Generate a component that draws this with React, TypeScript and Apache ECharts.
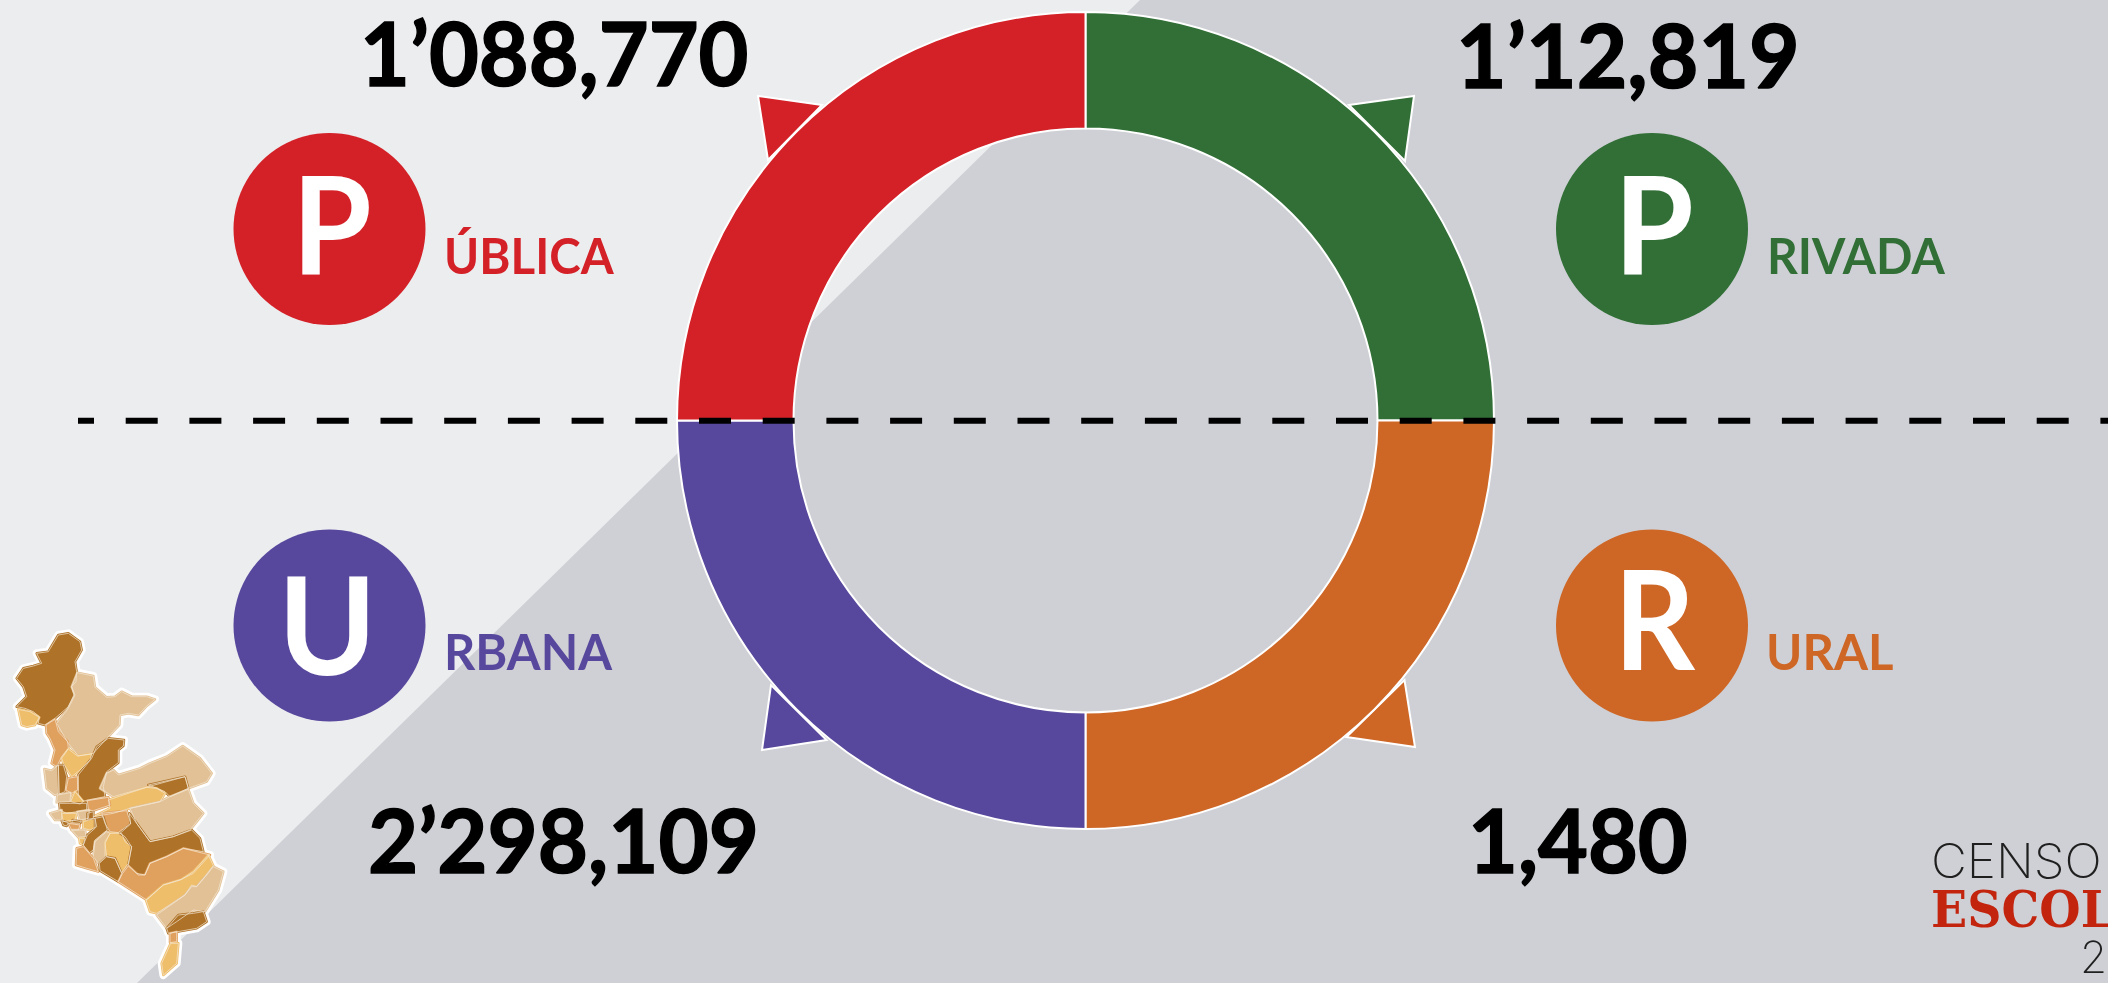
import React, { useEffect, useRef } from "react";
import * as echarts from "echarts";

const categories = ["Privada", "Rural", "Urbana", "Pública"];
const sliceShares = [25, 25, 25, 25];
const sliceColors = ["#316F37", "#CE6626", "#58489D", "#D42027"];
const totals = ["1’12,819", "1,480", "2’298,109", "1’088,770"];
const initials = ["P", "R", "U", "P"];
const suffixes = ["RIVADA", "URAL", "RBANA", "ÚBLICA"];

// [x, y of the text's vertical middle, horizontal scale]
const totalPos = [[1456, 54, 0.993], [1468, 839, 0.978], [368, 839, 0.984], [360, 52, 0.978]];
const circlePos = [[1652, 229], [1652, 625.5], [329.5, 625.5], [329.5, 229]];
const initialPos = [[1614, 222, 0.94], [1614, 617, 0.92], [278, 622, 0.97], [292, 222, 0.94]];
const suffixPos = [[1767, 255, 0.96], [1766, 651, 0.98], [444, 651, 0.975], [444, 255, 0.95]];
const pointers = [
  [[1414, 96], [1349, 105], [1405, 161]],
  [[1415, 747], [1346.5, 737], [1404.5, 680]],
  [[762, 750], [826.5, 740], [771, 685]],
  [[758, 96], [822, 105], [768, 160]],
];

const DARK = "#AE7228", TAN = "#E2C196", ORG = "#E0A05E", YEL = "#EFBE6B";
const mapRegions: [string, number[][]][] = [
  [DARK, [[175,105],[205,100],[240,125],[245,150],[225,185],[230,215],[228,245],[215,260],[222,285],[205,320],[165,355],[135,375],[115,370],[118,350],[100,335],[75,325],[50,320],[80,290],[70,260],[50,235],[70,205],[100,198],[125,190],[110,160],[145,155]]],
  [YEL, [[55,328],[90,335],[118,352],[105,375],[80,380],[65,375]]],
  [TAN, [[232,218],[280,228],[285,262],[320,292],[345,290],[365,275],[395,290],[440,290],[465,298],[440,318],[415,345],[385,340],[360,345],[358,375],[325,410],[280,460],[235,468],[205,430],[170,370],[205,325],[225,285],[215,260]]],
  [ORG, [[138,375],[165,358],[175,395],[203,425],[205,445],[185,470],[170,500],[155,490],[165,450],[150,415],[140,400]]],
  [YEL, [[205,447],[232,468],[275,462],[270,480],[240,510],[215,530],[190,490],[185,475]]],
  [DARK, [[325,415],[372,420],[370,438],[355,450],[355,488],[320,515],[310,560],[315,590],[250,603],[235,585],[235,525],[275,475],[290,440]]],
  [TAN, [[133,507],[155,512],[175,495],[175,580],[165,585],[140,565]]],
  [DARK, [[175,495],[190,495],[200,530],[195,575],[178,582]]],
  [ORG, [[205,535],[232,530],[233,570],[215,580],[198,570]]],
  [YEL, [[225,575],[250,605],[240,612],[212,605]]],
  [TAN, [[172,585],[212,578],[210,605],[170,607]]],
  [TAN, [[548,438],[600,475],[635,520],[620,545],[565,565],[555,530],[445,560],[340,590],[300,565],[320,520],[340,510],[355,525],[420,505],[450,490],[500,470]]],
  [DARK, [[445,555],[555,530],[565,565],[510,590],[495,575],[470,565]]],
  [YEL, [[325,600],[400,575],[440,562],[470,565],[495,580],[480,605],[390,625],[340,640],[280,650],[330,625]]],
  [TAN, [[390,625],[480,605],[510,590],[565,568],[580,610],[610,640],[590,665],[570,690],[520,710],[450,725],[410,670]]],
  [ORG, [[262,602],[325,592],[330,615],[280,632],[265,630]]],
  [DARK, [[178,610],[260,610],[260,630],[200,640],[180,630]]],
  [TAN, [[150,640],[185,630],[185,660],[165,660]]],
  [YEL, [[185,640],[230,640],[225,660],[190,665]]],
  [TAN, [[232,635],[268,630],[265,655],[240,660]]],
  [DARK, [[218,660],[245,665],[240,670],[215,668]]],
  [ORG, [[205,670],[240,675],[235,690],[215,690]]],
  [DARK, [[185,662],[205,668],[200,678],[190,675]]],
  [YEL, [[250,665],[285,655],[290,680],[270,690],[250,685]]],
  [TAN, [[215,690],[255,690],[258,710],[235,712]]],
  [DARK, [[262,640],[280,635],[280,655],[262,658]]],
  [YEL, [[238,715],[255,715],[250,735],[240,730]]],
  [ORG, [[305,640],[380,632],[392,670],[355,698],[330,695],[315,670]]],
  [DARK, [[285,655],[310,650],[322,690],[285,720],[280,750],[268,758],[250,735],[262,705],[285,685]]],
  [TAN, [[320,695],[330,700],[315,725],[315,770],[295,790],[280,770],[285,725]]],
  [YEL, [[330,700],[365,700],[375,725],[395,740],[385,790],[365,818],[345,775],[320,770],[315,730]]],
  [DARK, [[388,640],[410,670],[450,725],[520,710],[575,690],[600,715],[610,755],[550,745],[500,770],[450,790],[435,825],[410,820],[385,795],[395,740],[375,710],[360,700],[392,672]]],
  [ORG, [[230,745],[250,740],[280,775],[295,815],[260,805],[228,795]]],
  [DARK, [[320,770],[345,775],[365,820],[355,845],[300,812],[298,790]]],
  [ORG, [[550,745],[610,760],[630,765],[580,820],[540,840],[490,855],[440,900],[355,845],[368,820],[385,798],[415,825],[435,825],[450,790],[500,770]]],
  [YEL, [[625,765],[640,797],[615,830],[590,860],[575,855],[555,885],[470,940],[450,935],[438,900],[490,855],[545,838],[580,815]]],
  [TAN, [[640,800],[670,815],[655,870],[615,935],[580,930],[530,965],[500,985],[470,945],[555,885],[575,860],[590,860],[620,825]]],
  [DARK, [[535,945],[580,940],[610,935],[620,965],[590,985],[505,1000],[500,985]]],
  [ORG, [[510,1000],[530,995],[530,1025],[510,1028]]],
  [YEL, [[512,1030],[535,1030],[530,1090],[490,1125],[485,1090]]],
];

const FONT = "Lato";
const WIDTH = 2108;
const HEIGHT = 983;

function label(text: string, x: number, y: number, size: number, weight: any, fill: string, family = FONT, scaleX = 1, thicken = 0) {
  return {
    type: "text", x, y, scaleX, z: 10, silent: true,
    style: {
      text, fill, fontFamily: family, fontSize: size, fontWeight: weight,
      textAlign: "left", textVerticalAlign: "middle", verticalAlign: "middle",
      ...(thicken ? { stroke: fill, lineWidth: thicken } : {}),
    },
  };
}

function buildGraphics() {
  const mapPts = (pts: number[][]) => pts.map(([a, b]) => [a / 3, 600 + b / 3]);
  const els: any[] = [
    { type: "rect", z: 0, silent: true, shape: { x: 0, y: 0, width: WIDTH, height: HEIGHT }, style: { fill: "#ECEDEF" } },
    { type: "polygon", z: 0, silent: true, shape: { points: [[1140, 0], [WIDTH, 0], [WIDTH, HEIGHT], [137, HEIGHT]] }, style: { fill: "#CFD0D5" } },
  ];
  pointers.forEach((points, i) => {
    els.push({ type: "polygon", z: 1, silent: true, shape: { points }, style: { fill: sliceColors[i], stroke: "#FFFFFF", lineWidth: 2 } });
  });
  mapRegions.forEach(([, pts]) => {
    els.push({ type: "polygon", z: 3, silent: true, shape: { points: mapPts(pts) }, style: { fill: "#FFFFFF", stroke: "#FFFFFF", lineWidth: 8, lineJoin: "round" } });
  });
  mapRegions.forEach(([fill, pts]) => {
    els.push({ type: "polygon", z: 4, silent: true, shape: { points: mapPts(pts) }, style: { fill, stroke: fill, lineWidth: 2.5, lineJoin: "round" } });
  });
  mapRegions.forEach(([, pts]) => {
    els.push({ type: "polygon", z: 5, silent: true, shape: { points: mapPts(pts) }, style: { fill: "none", stroke: "#F4E6D2", lineWidth: 0.7 } });
  });
  els.push({
    type: "line", z: 9, silent: true,
    shape: { x1: 78, y1: 420.7, x2: WIDTH, y2: 420.7 },
    style: { stroke: "#000000", lineWidth: 6, lineDash: [32, 31.7], lineDashOffset: 16 },
  });
  categories.forEach((_, i) => {
    els.push({ type: "circle", z: 6, silent: true, shape: { cx: circlePos[i][0], cy: circlePos[i][1], r: 96 }, style: { fill: sliceColors[i] } });
    els.push(label(initials[i], initialPos[i][0], initialPos[i][1], 137, 700, "#FFFFFF", FONT, initialPos[i][2]));
    els.push(label(suffixes[i], suffixPos[i][0], suffixPos[i][1], 50, 700, sliceColors[i], FONT, suffixPos[i][2]));
    els.push(label(totals[i], totalPos[i][0], totalPos[i][1], 88, 700, "#000000", FONT, totalPos[i][2], 1.5));
  });
  els.push(label("CENSO", 1931, 861, 48, 200, "#1F1F1F", "Inter", 1.03));
  els.push(label("ESCOL", 1931, 909, 50, 700, "#C3240E", "DejaVu Serif", 0.95));
  els.push(label("2", 2080, 957, 44, 200, "#1F1F1F", "Inter"));
  return els;
}

export default function App() {
  const ref = useRef<HTMLDivElement>(null);
  useEffect(() => {
    document.body.style.margin = "0";
    const chart = echarts.init(ref.current!, undefined, { renderer: "svg" });
    chart.setOption({
      animation: false,
      graphic: { elements: buildGraphics() },
      series: [{
        type: "pie",
        center: [1085.5, 420.5],
        radius: [292, 408.5],
        startAngle: 90,
        clockwise: true,
        silent: true,
        label: { show: false },
        labelLine: { show: false },
        itemStyle: { borderColor: "#FFFFFF", borderWidth: 2 },
        data: categories.map((name, i) => ({ name, value: sliceShares[i], itemStyle: { color: sliceColors[i] } })),
      }],
    });
    return () => chart.dispose();
  }, []);
  return <div ref={ref} style={{ position: "fixed", left: 0, top: 0, width: WIDTH, height: HEIGHT }} />;
}
